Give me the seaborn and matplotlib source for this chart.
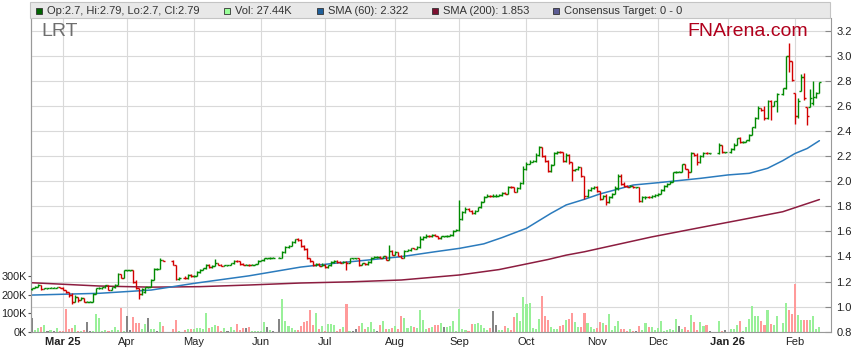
import numpy as np
import pandas as pd
import seaborn as sns
import matplotlib.pyplot as plt
from matplotlib.patches import Rectangle

nan = float("nan")

# trading days (weekdays), ASX holidays left empty
days = pd.bdate_range("2025-02-17", "2026-02-12")

open_ = [
    # Feb 25
    1.14, 1.15, 1.16, 1.175, 1.14, 1.145, 1.145, 1.15, 1.15, 1.155,
    # Mar
    1.15, 1.135, 1.12, 1.09, 1.04, 1.08, 1.05, 1.07, 1.04, 1.04, 1.04, 1.10, 1.145, 1.15, 1.155,
    1.17, 1.135, 1.155, 1.175, 1.26, 1.23,
    # Apr
    1.29, 1.29, 1.29, 1.20, 1.15, 1.10, 1.12, 1.155, 1.155, 1.215, 1.30, 1.30, 1.37, nan, nan,
    1.365, 1.33, 1.22, nan, 1.23, 1.225, 1.255,
    # May
    1.24, 1.245, 1.275, 1.295, 1.305, 1.335, 1.315, 1.32, 1.35, 1.335, 1.325, 1.33, 1.33, 1.345,
    1.365, 1.36, 1.34, 1.335, 1.335, 1.33, 1.335, 1.34,
    # Jun
    1.365, 1.37, 1.385, 1.385, 1.39, nan, 1.39, 1.39, 1.435, 1.475, 1.485, 1.515, 1.535, 1.53,
    1.48, 1.46, 1.39, 1.36, 1.33, 1.34, 1.325,
    # Jul
    1.335, 1.315, 1.33, 1.355, 1.365, 1.355, 1.35, 1.355, 1.35, 1.385, 1.385, 1.385, 1.33, 1.345,
    1.34, 1.355, 1.39, 1.395, 1.395, 1.39, 1.40, 1.375, 1.44,
    # Aug
    1.415, 1.435, 1.405, 1.39, 1.445, 1.45, 1.465, 1.46, 1.475, 1.535, 1.555, 1.565, 1.56, 1.57,
    1.565, 1.545, 1.56, 1.56, 1.565, 1.57, 1.605,
    # Sep
    1.61, 1.70, 1.75, 1.78, 1.765, 1.745, 1.765, 1.79, 1.835, 1.875, 1.885, 1.88, 1.88, 1.88,
    1.89, 1.905, 1.90, 1.955, 1.95, 1.915, 1.945, 1.985,
    # Oct
    2.10, 2.14, 2.155, 2.16, 2.21, 2.27, 2.20, 2.16, 2.08, 2.13, 2.22, 2.235, 2.23, 2.16, 2.21,
    2.15, 2.09, 2.095, 2.11, 2.04, 1.88, 1.93, 1.945,
    # Nov
    1.955, 1.92, 1.86, 1.88, 1.83, 1.87, 1.90, 1.945, 2.04, 1.98, 1.96, 1.955, 1.96, 1.95, 1.95,
    1.845, 1.87, 1.875, 1.87, 1.885,
    # Dec
    1.89, 1.90, 1.93, 1.96, 1.98, 1.995, 2.07, 2.075, 2.075, 2.135, 2.10, 2.075, 2.22, 2.205,
    2.15, 2.20, 2.225, 2.22, nan, nan, 2.22, 2.29, 2.23,
    # Jan 26
    nan, 2.23, 2.255, 2.29, 2.34, 2.31, 2.315, 2.325, 2.37, 2.43, 2.50, 2.58, 2.565, 2.50, 2.64,
    2.60, 2.635, nan, 2.695, 2.74, 3.00, 2.955,
    # Feb
    2.70, 2.52, 2.72, 2.83, 2.59, 2.59, 2.62, 2.67, 2.70,
]
high = [
    1.15, 1.165, 1.18, 1.175, 1.15, 1.15, 1.155, 1.155, 1.16, 1.155,
    1.155, 1.135, 1.12, 1.11, 1.09, 1.08, 1.08, 1.07, 1.045, 1.045, 1.11, 1.15, 1.155, 1.16, 1.175,
    1.17, 1.16, 1.18, 1.27, 1.26, 1.29,
    1.295, 1.295, 1.29, 1.21, 1.15, 1.15, 1.16, 1.16, 1.22, 1.31, 1.31, 1.39, 1.375, nan, nan,
    1.37, 1.33, 1.235, nan, 1.24, 1.26, 1.26,
    1.25, 1.28, 1.30, 1.31, 1.34, 1.34, 1.33, 1.38, 1.35, 1.34, 1.335, 1.335, 1.35, 1.37,
    1.37, 1.36, 1.345, 1.34, 1.34, 1.34, 1.34, 1.37,
    1.375, 1.39, 1.39, 1.395, 1.395, nan, 1.395, 1.44, 1.48, 1.49, 1.52, 1.54, 1.545, 1.535,
    1.49, 1.47, 1.39, 1.365, 1.35, 1.345, 1.345,
    1.34, 1.335, 1.36, 1.37, 1.37, 1.36, 1.36, 1.36, 1.39, 1.39, 1.39, 1.385, 1.35, 1.35,
    1.36, 1.395, 1.40, 1.40, 1.40, 1.40, 1.40, 1.49, 1.45,
    1.44, 1.435, 1.41, 1.45, 1.455, 1.47, 1.47, 1.48, 1.56, 1.56, 1.575, 1.57, 1.575, 1.575,
    1.565, 1.565, 1.565, 1.57, 1.575, 1.61, 1.615,
    1.85, 1.76, 1.79, 1.785, 1.77, 1.77, 1.795, 1.84, 1.88, 1.90, 1.89, 1.895, 1.895, 1.895,
    1.91, 1.91, 1.96, 1.96, 1.955, 1.95, 1.99, 2.12,
    2.15, 2.165, 2.165, 2.22, 2.28, 2.275, 2.21, 2.165, 2.135, 2.235, 2.24, 2.24, 2.23, 2.22, 2.215,
    2.15, 2.10, 2.12, 2.115, 2.04, 1.935, 1.95, 1.96,
    1.96, 1.925, 1.89, 1.90, 1.88, 1.905, 1.96, 2.06, 2.06, 1.99, 1.965, 1.965, 1.96, 1.955, 1.95,
    1.88, 1.885, 1.885, 1.89, 1.895,
    1.905, 1.935, 1.965, 1.985, 2.00, 2.075, 2.08, 2.08, 2.14, 2.14, 2.10, 2.235, 2.225, 2.22,
    2.21, 2.23, 2.23, 2.225, nan, nan, 2.30, 2.29, 2.235,
    nan, 2.26, 2.30, 2.345, 2.35, 2.32, 2.33, 2.375, 2.435, 2.51, 2.595, 2.585, 2.595, 2.65, 2.65,
    2.64, 2.70, nan, 2.745, 3.00, 3.10, 2.96,
    2.70, 2.66, 2.85, 2.86, 2.59, 2.73, 2.80, 2.71, 2.79,
]
low = [
    1.13, 1.145, 1.155, 1.135, 1.14, 1.14, 1.145, 1.145, 1.15, 1.145,
    1.13, 1.11, 1.08, 1.02, 1.04, 1.04, 1.05, 1.04, 1.035, 1.035, 1.04, 1.10, 1.14, 1.14, 1.15,
    1.13, 1.135, 1.15, 1.175, 1.225, 1.23,
    1.28, 1.285, 1.19, 1.14, 1.06, 1.09, 1.11, 1.15, 1.155, 1.21, 1.29, 1.30, 1.36, nan, nan,
    1.33, 1.21, 1.215, nan, 1.22, 1.22, 1.235,
    1.235, 1.245, 1.27, 1.29, 1.30, 1.31, 1.31, 1.32, 1.33, 1.32, 1.32, 1.325, 1.33, 1.34,
    1.355, 1.335, 1.33, 1.33, 1.325, 1.33, 1.33, 1.34,
    1.36, 1.365, 1.38, 1.38, 1.385, nan, 1.385, 1.39, 1.43, 1.47, 1.48, 1.51, 1.52, 1.475,
    1.45, 1.38, 1.355, 1.325, 1.32, 1.32, 1.32,
    1.31, 1.305, 1.325, 1.35, 1.35, 1.345, 1.345, 1.29, 1.345, 1.38, 1.38, 1.32, 1.33, 1.335,
    1.335, 1.35, 1.385, 1.39, 1.385, 1.385, 1.37, 1.375, 1.41,
    1.41, 1.40, 1.385, 1.39, 1.44, 1.445, 1.455, 1.455, 1.47, 1.53, 1.55, 1.555, 1.555, 1.56,
    1.54, 1.54, 1.555, 1.555, 1.56, 1.565, 1.60,
    1.60, 1.69, 1.745, 1.76, 1.74, 1.74, 1.76, 1.785, 1.83, 1.87, 1.875, 1.875, 1.875, 1.88,
    1.885, 1.895, 1.90, 1.945, 1.91, 1.91, 1.94, 1.98,
    2.09, 2.135, 2.15, 2.155, 2.20, 2.19, 2.15, 2.07, 2.075, 2.125, 2.215, 2.225, 2.15, 2.155, 2.14,
    2.00, 2.08, 2.085, 2.035, 1.86, 1.875, 1.92, 1.94,
    1.915, 1.85, 1.855, 1.81, 1.825, 1.865, 1.895, 1.93, 1.97, 1.955, 1.95, 1.95, 1.945, 1.945,
    1.835, 1.835, 1.86, 1.865, 1.865, 1.875,
    1.885, 1.895, 1.925, 1.955, 1.975, 1.99, 2.065, 2.07, 2.07, 2.095, 2.025, 2.07, 2.20, 2.13,
    2.145, 2.195, 2.215, 2.215, nan, nan, 2.215, 2.225, 2.225,
    nan, 2.225, 2.25, 2.285, 2.305, 2.30, 2.31, 2.32, 2.365, 2.425, 2.495, 2.555, 2.49, 2.495, 2.49,
    2.595, 2.55, nan, 2.69, 2.735, 2.87, 2.80,
    2.455, 2.50, 2.72, 2.65, 2.45, 2.59, 2.61, 2.66, 2.70,
]
close = [
    1.15, 1.16, 1.175, 1.14, 1.145, 1.145, 1.15, 1.15, 1.155, 1.15,
    1.135, 1.12, 1.09, 1.04, 1.08, 1.05, 1.07, 1.04, 1.04, 1.04, 1.10, 1.145, 1.15, 1.155, 1.17,
    1.135, 1.155, 1.175, 1.26, 1.23, 1.29,
    1.29, 1.29, 1.20, 1.15, 1.10, 1.14, 1.155, 1.155, 1.215, 1.30, 1.30, 1.37, 1.365, nan, nan,
    1.33, 1.22, 1.23, nan, 1.225, 1.255, 1.24,
    1.245, 1.275, 1.295, 1.305, 1.335, 1.315, 1.32, 1.35, 1.335, 1.325, 1.33, 1.33, 1.345, 1.365,
    1.36, 1.34, 1.335, 1.335, 1.33, 1.335, 1.34, 1.365,
    1.37, 1.385, 1.385, 1.39, 1.39, nan, 1.39, 1.435, 1.475, 1.485, 1.515, 1.535, 1.53, 1.48,
    1.46, 1.39, 1.36, 1.33, 1.34, 1.325, 1.335,
    1.315, 1.33, 1.355, 1.365, 1.355, 1.35, 1.355, 1.35, 1.385, 1.385, 1.385, 1.33, 1.345, 1.34,
    1.355, 1.39, 1.395, 1.395, 1.39, 1.40, 1.375, 1.44, 1.415,
    1.435, 1.405, 1.39, 1.445, 1.45, 1.465, 1.46, 1.475, 1.535, 1.555, 1.565, 1.56, 1.57, 1.565,
    1.545, 1.56, 1.56, 1.565, 1.57, 1.605, 1.61,
    1.70, 1.75, 1.78, 1.765, 1.745, 1.765, 1.79, 1.835, 1.875, 1.885, 1.88, 1.88, 1.88, 1.89,
    1.905, 1.90, 1.955, 1.95, 1.915, 1.945, 1.985, 2.10,
    2.14, 2.155, 2.16, 2.21, 2.27, 2.20, 2.16, 2.08, 2.13, 2.22, 2.235, 2.23, 2.16, 2.21, 2.15,
    2.09, 2.095, 2.11, 2.04, 1.88, 1.93, 1.945, 1.955,
    1.92, 1.86, 1.88, 1.83, 1.87, 1.90, 1.945, 2.04, 1.98, 1.96, 1.955, 1.96, 1.95, 1.95, 1.845,
    1.87, 1.875, 1.87, 1.885, 1.89,
    1.90, 1.93, 1.96, 1.98, 1.995, 2.07, 2.075, 2.075, 2.135, 2.10, 2.075, 2.22, 2.205, 2.15,
    2.20, 2.225, 2.22, 2.22, nan, nan, 2.29, 2.23, 2.23,
    nan, 2.255, 2.29, 2.34, 2.31, 2.315, 2.325, 2.37, 2.43, 2.50, 2.58, 2.565, 2.50, 2.64, 2.60,
    2.635, 2.695, nan, 2.74, 3.00, 2.955, 2.805,
    2.52, 2.64, 2.83, 2.66, 2.52, 2.66, 2.67, 2.70, 2.79,
]
# volume in thousands
volume_k = [
    72, 9, 18, 27, 36, 4, 9, 5, 18, 3,
    3, 121, 13, 18, 36, 5, 5, 9, 54, 3, 3, 95, 72, 3, 9, 3, 9, 23, 9, 126, 5,
    85, 9, 81, 49, 45, 14, 41, 72, 14, 14, 5, 54, 31, nan, nan, 13, 63, 5, nan, 9, 14, 14,
    13, 18, 18, 13, 103, 18, 27, 36, 31, 3, 18, 5, 27, 9, 41, 9, 18, 18, 23, 3, 4, 3,
    3, 54, 23, 9, 3, nan, 67, 175, 58, 31, 22, 9, 9, 31, 54, 59, 117, 36, 103, 14, 32,
    4, 41, 41, 36, 5, 14, 27, 150, 5, 3, 14, 32, 49, 14, 27, 54, 14, 4, 36, 59, 13, 14, 18,
    31, 13, 85, 76, 18, 31, 27, 18, 117, 63, 14, 18, 27, 36, 36, 49, 27, 27, 31, 58, 4,
    122, 14, 9, 3, 41, 41, 45, 36, 18, 9, 18, 112, 36, 9, 9, 31, 18, 9, 81, 103, 58, 189,
    148, 153, 18, 14, 67, 193, 85, 63, 27, 14, 14, 31, 36, 63, 67, 103, 54, 27, 27, 103, 45, 27, 14,
    18, 54, 49, 36, 95, 9, 31, 58, 14, 14, 5, 14, 5, 3, 31, 9, 49, 23, 27, 9,
    18, 58, 5, 9, 14, 9, 67, 31, 14, 23, 9, 90, 54, 9, 54, 31, 36, 5, nan, nan, 58, 3, 9,
    nan, 13, 14, 36, 58, 4, 27, 67, 139, 85, 85, 58, 36, 117, 41, 36, 85, nan, 49, 153, 117, 95,
    258, 90, 63, 63, 63, 63, 85, 13, 27.44,
]

sma60_day = [0, 22, 39, 53, 71, 88, 99, 110, 121, 132, 140, 148, 154, 162, 170, 175, 181,
             186, 197, 205, 219, 228, 235, 241, 246, 250, 254, 258]
sma60 = [1.092, 1.106, 1.132, 1.185, 1.245, 1.315, 1.345, 1.371, 1.398, 1.437, 1.464, 1.50,
         1.55, 1.624, 1.743, 1.81, 1.855, 1.897, 1.969, 1.987, 2.022, 2.049, 2.062, 2.102,
         2.163, 2.22, 2.26, 2.322]
sma200_day = [0, 22, 39, 55, 71, 88, 104, 121, 140, 153, 162, 169, 175, 181, 186, 203, 219,
              232, 246, 258]
sma200 = [1.19, 1.164, 1.155, 1.159, 1.172, 1.188, 1.197, 1.212, 1.252, 1.295, 1.34, 1.375,
          1.41, 1.437, 1.464, 1.555, 1.63, 1.69, 1.756, 1.853]

df = pd.DataFrame({"open": open_, "high": high, "low": low, "close": close,
                   "vol": np.array(volume_k) * 1000}, index=days)
df["x"] = np.arange(len(df))
bars = df.dropna()

prev = df["close"].ffill().shift(1).loc[bars.index]
up = bars["close"] >= bars["open"]
vol_col = np.where(bars["close"] > prev, "#99f099",
                   np.where(bars["close"] < prev, "#ff9a9a", "#858585"))

# volume drawn in price units on the same axes
VOL_SCALE = 0.1482 / 1e5
BASE = 0.8

def p2v(p):
    return (p - BASE) / VOL_SCALE

def v2p(v):
    return BASE + v * VOL_SCALE

sns.set_style("white")
plt.rcParams["font.family"] = ["Liberation Sans", "DejaVu Sans"]

W, H = 859, 363
fig = plt.figure(figsize=(W / 100, H / 100), dpi=100)
ax = fig.add_axes([31 / W, 1 - 331.7 / H, 800 / W, 313.7 / H])

ax.bar(bars["x"], bars["vol"] * VOL_SCALE, bottom=BASE, width=0.68,
       color=vol_col, linewidth=0, zorder=1)

sns.lineplot(x=sma200_day, y=sma200, ax=ax, color="#8c1d40", linewidth=1.1, zorder=2)
sns.lineplot(x=sma60_day, y=sma60, ax=ax, color="#2b7bbd", linewidth=1.1, zorder=2)

bar_col = np.where(up, "#008a00", "#d20000")
ax.vlines(bars["x"], bars["low"], bars["high"], colors=bar_col, linewidth=1.0, zorder=3)
ax.hlines(bars["open"], bars["x"] - 0.6, bars["x"], colors=bar_col, linewidth=1.0, zorder=3)
ax.hlines(bars["close"], bars["x"], bars["x"] + 0.6, colors=bar_col, linewidth=1.0, zorder=3)

ax.set_xlim(-0.4, 261.8)
ax.set_ylim(0.8, 0.8 + 313.7 / 125.5)

# month gridlines / ticks
month_x = df.groupby([df.index.year, df.index.month])["x"].min().values[1:]
month_d = df.index[month_x]
labels = [d.strftime("%b %y") if (i == 0 or d.month == 1) else d.strftime("%b")
          for i, d in enumerate(month_d)]
ax.set_xticks(month_x)
ax.set_xticklabels(labels, fontsize=8, color="#222222")
for t, lab in zip(ax.get_xticklabels(), labels):
    if " " in lab:
        t.set_fontweight("bold")
ax.tick_params(axis="x", length=0, pad=4)

ax.yaxis.tick_right()
ax.set_yticks(np.arange(0.8, 3.21, 0.2))
ax.set_yticklabels([f"{v:.1f}" for v in np.arange(0.8, 3.21, 0.2)], fontsize=8, color="#222222")
ax.tick_params(axis="y", direction="in", length=4, pad=4, color="#888888")

ax.grid(True, color="#d9d9d9", linewidth=0.8)
ax.set_axisbelow(True)
ax.set_xlabel("")
ax.set_ylabel("")
for side in ["left", "right", "bottom"]:
    ax.spines[side].set_color("#999999")
    ax.spines[side].set_linewidth(0.8)
ax.spines["top"].set_visible(False)

sec = ax.secondary_yaxis("left", functions=(p2v, v2p))
sec.set_yticks([0, 1e5, 2e5, 3e5])
sec.set_yticklabels(["0K", "100K", "200K", "300K"], fontsize=7.8, color="#222222")
sec.tick_params(direction="out", length=2.5, pad=0.5, color="#555555")
sec.spines["left"].set_color("#999999")
sec.spines["left"].set_linewidth(0.8)

# header band with legend items
fig.add_artist(Rectangle((30 / W, 1 - 18 / H), 800 / W, 15.5 / H, transform=fig.transFigure,
                         facecolor="#e8e8e8", edgecolor="#c4c4c4", linewidth=0.8))
items = [
    (36, "#006400", "Op:2.7, Hi:2.79, Lo:2.7, Cl:2.79"),
    (224, "#99ff99", "Vol: 27.44K"),
    (317, "#1f5f9a", "SMA (60): 2.322"),
    (432, "#7d1030", "SMA (200): 1.853"),
    (553, "#5c5c94", "Consensus Target: 0 - 0"),
]
for px, col, txt in items:
    fig.add_artist(Rectangle((px / W, 1 - 13.5 / H), 6 / W, 6 / H, transform=fig.transFigure,
                             facecolor=col, edgecolor="#333333", linewidth=0.6))
    fig.text((px + 11) / W, 1 - 10.5 / H, txt, fontsize=8, color="#333333", va="center")

fig.text(41 / W, 1 - 32 / H, "LRT", fontsize=14, color="#6e6e6e", va="center")
fig.text(808 / W, 1 - 31 / H, "FNArena.com", fontsize=14, color="#b0001c", va="center", ha="right")

fig.savefig("out.png", dpi=100)
